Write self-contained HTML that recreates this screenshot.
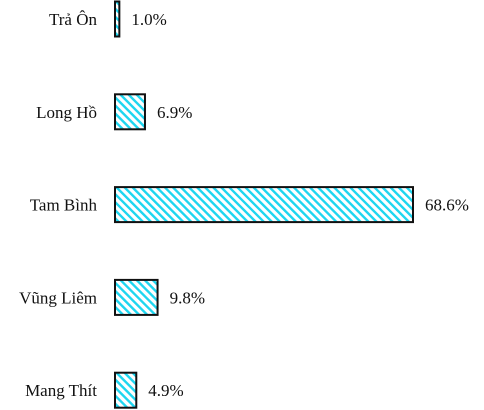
<!DOCTYPE html>
<html><head><meta charset="utf-8"><style>
html,body{margin:0;padding:0;background:#fff;}
svg{display:block;font-family:"Liberation Serif",serif;}
</style></head><body>
<svg id="chart" width="484" height="410">
<defs>
<pattern id="hatch" patternUnits="userSpaceOnUse" width="5.7" height="8" patternTransform="rotate(-45)">
<rect width="5.7" height="8" fill="#fff"/>
<rect x="0" y="0" width="2.4" height="8" fill="#1ed6f0"/>
</pattern>
</defs>
</svg>
<script>
const categories = ["Trả Ôn","Long Hồ","Tam Bình","Vũng Liêm","Mang Thít"];
const values = [1.0, 6.9, 68.6, 9.8, 4.9];
const valueLabels = ["1.0%","6.9%","68.6%","9.8%","4.9%"];
const svg = document.getElementById('chart');
const NS = 'http://www.w3.org/2000/svg';
const x0 = 115, pxPer = 298/68.6;
const xScale = v => x0 + v*pxPer;
const yCenter = i => 19 + i*92.8;
const barH = 35;
categories.forEach((c,i)=>{
  const yc = yCenter(i);
  const r = document.createElementNS(NS,'rect');
  r.setAttribute('x', x0);
  r.setAttribute('y', yc - barH/2);
  r.setAttribute('width', Math.max(xScale(values[i]) - x0, 1));
  r.setAttribute('height', barH);
  r.setAttribute('fill','url(#hatch)');
  r.setAttribute('stroke','#111');
  r.setAttribute('stroke-width','2');
  
  
  svg.appendChild(r);
  const t = document.createElementNS(NS,'text');
  t.setAttribute('x', 97);
  t.setAttribute('y', yc + 6);
  t.setAttribute('text-anchor','end');
  t.setAttribute('font-size','17');
  t.setAttribute('fill','#111');
  t.textContent = c;
  
  
  svg.appendChild(t);
  const v = document.createElementNS(NS,'text');
  v.setAttribute('x', xScale(values[i]) + 12);
  v.setAttribute('y', yc + 6);
  v.setAttribute('font-size','17');
  v.setAttribute('fill','#111');
  v.textContent = valueLabels[i];
  
  
  svg.appendChild(v);
});
</script>
</body></html>
